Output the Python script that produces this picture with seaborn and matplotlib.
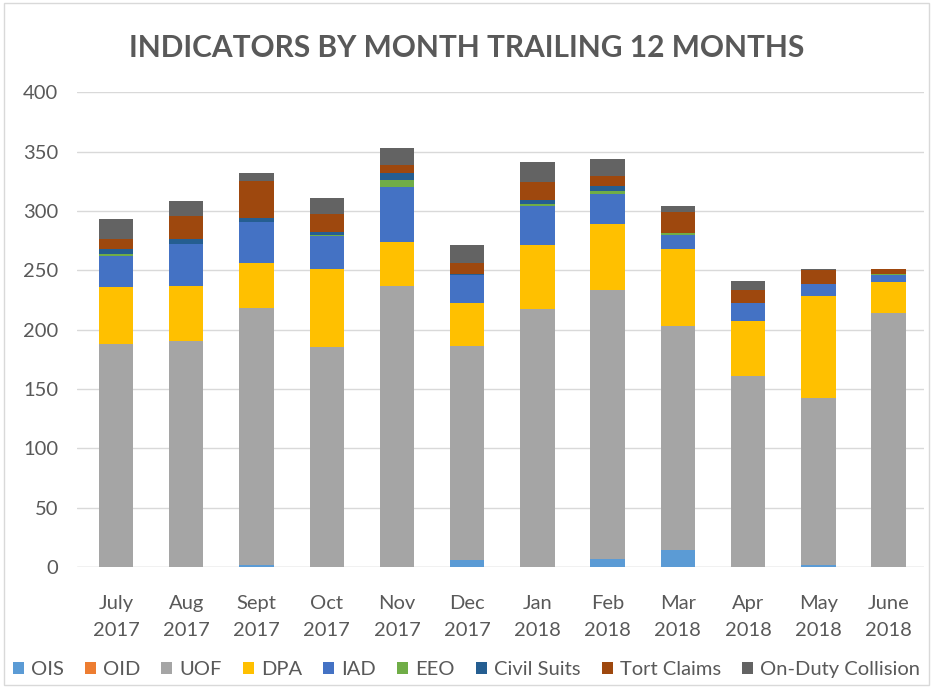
import numpy as np
import pandas as pd
import matplotlib
matplotlib.use("Agg")
import matplotlib.pyplot as plt
import seaborn as sns
from matplotlib.patches import Rectangle

months = ["July\n2017", "Aug\n2017", "Sept\n2017", "Oct\n2017", "Nov\n2017", "Dec\n2017",
          "Jan\n2018", "Feb\n2018", "Mar\n2018", "Apr\n2018", "May\n2018", "June\n2018"]

ois = [0, 0, 2, 0, 0, 6, 0, 7, 14, 0, 2, 0]
oid = [0, 0, 0, 0, 0, 0, 0, 0, 0, 0, 0, 0]
uof = [188, 190, 216, 185, 237, 180, 217, 226, 189, 161, 140, 214]
dpa = [48, 47, 38, 66, 37, 36, 54, 56, 65, 46, 86, 26]
iad = [26, 35, 35, 28, 46, 24, 33, 25, 12, 15, 10, 6]
eeo = [2, 0, 0, 1, 6, 0, 2, 3, 1, 0, 0, 1]
civil_suits = [4, 4, 3, 2, 6, 1, 3, 4, 0, 0, 0, 0]
tort_claims = [8, 20, 31, 15, 7, 9, 15, 8, 18, 11, 12, 4]
collision = [17, 12, 7, 14, 14, 15, 17, 15, 5, 8, 1, 0]

series_names = ["OIS", "OID", "UOF", "DPA", "IAD", "EEO", "Civil Suits", "Tort Claims", "On-Duty Collision"]
series_vals = [ois, oid, uof, dpa, iad, eeo, civil_suits, tort_claims, collision]
colors = ["#5B9BD5", "#ED7D31", "#A5A5A5", "#FFC000", "#4472C4", "#70AD47", "#255E91", "#9E480E", "#636363"]

sns.set_theme(style="white")
plt.rcParams['font.family'] = ['Lato', 'DejaVu Sans']
text_color = "#595959"

fig = plt.figure(figsize=(9.33, 6.88), dpi=100)
ax = fig.add_axes([0.083, 0.176, 0.907, 0.69])

bottom = np.zeros(len(months))
for name, vals, c in zip(series_names, series_vals, colors):
    df = pd.DataFrame({"month": months, "value": vals})
    sns.barplot(data=df, x="month", y="value", bottom=bottom, color=c, width=0.49,
                label=name, ax=ax, saturation=1, linewidth=0, legend=False)
    bottom = bottom + np.array(vals)

if ax.get_legend() is not None:
    ax.get_legend().remove()

ax.set_ylim(0, 400)
ax.set_xlim(-0.55, 11.5)
ax.set_yticks(range(0, 401, 50))
ax.yaxis.grid(True, color="#D9D9D9", linewidth=1)
ax.set_axisbelow(True)
for s in ax.spines.values():
    s.set_visible(False)
ax.axhline(0, color="#D9D9D9", linewidth=1, zorder=0)
ax.set_xlabel("")
ax.set_ylabel("")
ax.tick_params(axis="both", length=0, labelsize=14.5, colors=text_color)
ax.tick_params(axis="x", pad=20)
ax.tick_params(axis="y", pad=14)
for lbl in ax.get_xticklabels():
    lbl.set_linespacing(1.75)

fig.text(0.5, 0.93, "INDICATORS BY MONTH TRAILING 12 MONTHS", ha="center", va="center",
         fontsize=21.5, fontweight="bold", color=text_color)

handles, labels = ax.get_legend_handles_labels()
fig.legend(handles, labels, loc="center", bbox_to_anchor=(0.5, 0.027), ncol=9, frameon=False,
           fontsize=14.5, handlelength=0.55, handleheight=0.55, handletextpad=0.35,
           columnspacing=1.05, labelcolor=text_color)

fig.patches.append(Rectangle((0.004, 0.004), 0.992, 0.992, transform=fig.transFigure,
                             fill=False, edgecolor="#D9D9D9", linewidth=1))

fig.savefig("out.png", dpi=100)
